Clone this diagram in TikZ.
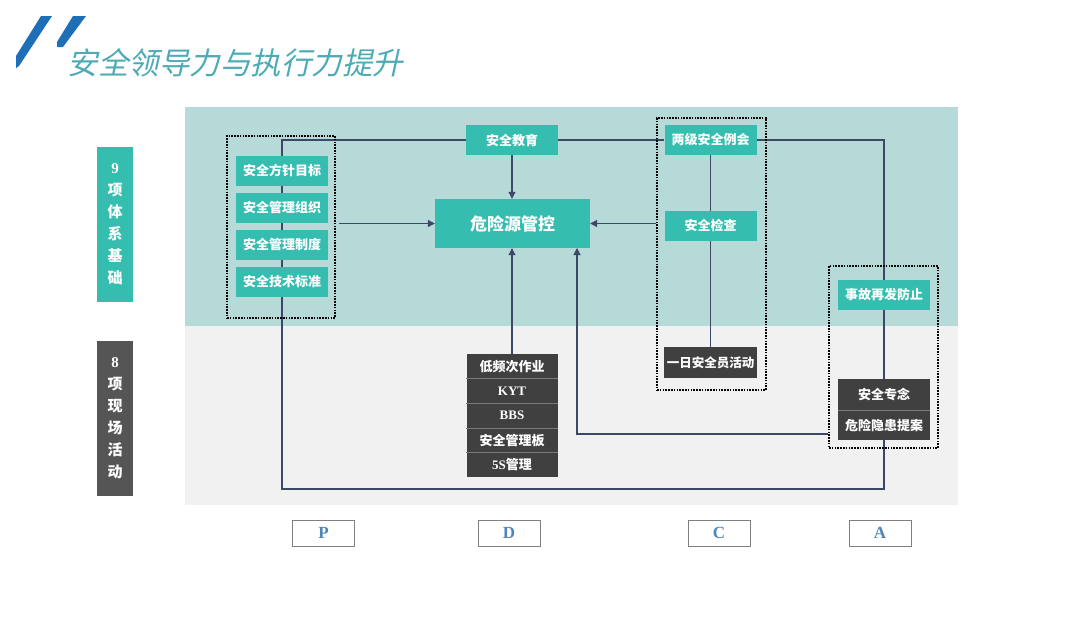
\documentclass[tikz,border=0pt]{standalone}
\usepackage{fontspec}
\setmainfont{Liberation Serif}
\newfontfamily\cjk{Noto Sans CJK SC}
\usetikzlibrary{arrows.meta,fit}
\pgfdeclarelayer{bg}\pgfdeclarelayer{lines}
\pgfsetlayers{bg,lines,main}
\definecolor{tealbox}{HTML}{35BDB0}
\definecolor{topband}{HTML}{B6DAD8}
\definecolor{botband}{HTML}{F1F1F1}
\definecolor{darkbox}{HTML}{404040}
\definecolor{labdark}{HTML}{555555}
\definecolor{linec}{HTML}{3D4866}
\definecolor{slash}{HTML}{1F6FB8}
\definecolor{titlec}{HTML}{4DABB5}
\definecolor{pdcat}{HTML}{4F86B8}
\definecolor{sepc}{HTML}{7A7A7A}
\begin{document}
\begin{tikzpicture}[x=1pt,y=-1pt,
  cjkb/.style={font=\cjk\bfseries\fontsize{13}{15}\selectfont},
  tbox/.style={fill=tealbox, text=white, cjkb, minimum width=92, minimum height=30, inner sep=0},
  dbox/.style={fill=darkbox, text=white, cjkb, minimum width=92, minimum height=30, inner sep=0},
  sbox/.style={fill=darkbox, text=white, cjkb, minimum width=91, minimum height=24.6, inner sep=0},
  dotbox/.style={draw=black, dash pattern=on 1.6pt off 1.2pt, line width=1.8pt, inner sep=0},
  conn/.style={draw=linec, line width=1.05pt},
  arr/.style={conn, -{Triangle[length=7pt,width=7pt]}},
  pbox/.style={draw=gray, line width=0.8pt, minimum width=62, minimum height=26, inner sep=0, text=pdcat, font=\bfseries\fontsize{17}{19}\selectfont},
  lab/.style={minimum width=36, minimum height=155, inner sep=0, text=white, align=center, font=\fontsize{15}{22}\selectfont}
]
\useasboundingbox (0,0) rectangle (1080,621);

% bands
\begin{pgfonlayer}{bg}
\fill[white] (0,0) rectangle (1080,621);
\fill[topband] (185,107) rectangle (958,326);
\fill[botband] (185,326) rectangle (958,505);
\end{pgfonlayer}

% title
\fill[slash] (41,16) -- (52,16) -- (19,66) -- (16,68) -- (16,56) -- cycle;
\fill[slash] (73,16) -- (86,16) -- (63,47) -- (57,47) -- (57,42) -- cycle;
\node[text=titlec, font=\cjk\fontsize{30.5}{32}\selectfont, xslant=0.22, transform shape, inner sep=0] (title) at (238,63) {安全领导力与执行力提升};

% left labels
\node[lab, fill=tealbox] (lab9) at (115,224.5) {{\bfseries 9}\\{\cjk\bfseries 项}\\{\cjk\bfseries 体}\\{\cjk\bfseries 系}\\{\cjk\bfseries 基}\\{\cjk\bfseries 础}};
\node[lab, fill=labdark] (lab8) at (115,418) {{\bfseries 8}\\{\cjk\bfseries 项}\\{\cjk\bfseries 现}\\{\cjk\bfseries 场}\\{\cjk\bfseries 活}\\{\cjk\bfseries 动}};

% P group
\node[tbox] (p1) at (282,171) {安全方针目标};
\node[tbox] (p2) at (282,208) {安全管理组织};
\node[tbox] (p3) at (282,245) {安全管理制度};
\node[tbox] (p4) at (282,282) {安全技术标准};
\node[dotbox, fit={(227,136) (335,318)}] (pgrp) {};

% D
\node[tbox] (edu) at (512,140) {安全教育};
\node[fill=tealbox, text=white, font=\cjk\bfseries\fontsize{17}{20}\selectfont, minimum width=155, minimum height=49, inner sep=0] (haz) at (512.5,223.5) {危险源管控};
\node[sbox] (d1) at (512,366.3) {低频次作业};
\node[sbox, font=\bfseries\fontsize{13}{15}\selectfont] (d2) at (512,390.9) {KYT};
\node[sbox, font=\bfseries\fontsize{13}{15}\selectfont] (d3) at (512,415.5) {BBS};
\node[sbox] (d4) at (512,440.1) {安全管理板};
\node[sbox] (d5) at (512,464.7) {{\rmfamily 5S}管理};
\draw[sepc, line width=0.7pt] (d1.south west) -- (d1.south east);
\draw[sepc, line width=0.7pt] (d2.south west) -- (d2.south east);
\draw[sepc, line width=0.7pt] (d3.south west) -- (d3.south east);
\draw[sepc, line width=0.7pt] (d4.south west) -- (d4.south east);

% C group
\node[tbox] (meet) at (710.5,140) {两级安全例会};
\node[tbox] (check) at (710.5,226) {安全检查};
\node[dbox, minimum width=93, minimum height=31, font=\cjk\bfseries\fontsize{12.5}{15}\selectfont] (daily) at (710.5,362.5) {一日安全员活动};
\node[dotbox, fit={(657,118) (766,390)}] (cgrp) {};

% A group
\node[tbox] (acc) at (884,295) {事故再发防止};
\node[dbox, minimum height=31] (nian) at (884,394.5) {安全专念};
\node[dbox] (prop) at (884,425) {危险隐患提案};
\draw[sepc, line width=0.7pt] (nian.south west) -- (nian.south east);
\node[dotbox, fit={(829,266) (938,448)}] (agrp) {};

% connectors
\coordinate (c1) at (282,140);
\coordinate (c2) at (282,489);
\coordinate (c3) at (884,489);
\coordinate (c4) at (884,140);
\coordinate (c5) at (577,434);
\coordinate (c6) at (577,248);
\begin{pgfonlayer}{lines}
\draw[conn] (edu.west) -- (c1) -- (c2) -- (c3) -- (prop.south);
\draw[conn] (edu.east) -- (meet.west);
\draw[conn] (meet.east) -- (c4) -- (nian.north);
\draw[conn] (meet.south) -- (daily.north);
\draw[arr] (edu.south) -- (edu.south |- haz.north);
\draw[arr] ([xshift=3pt]pgrp.east |- haz.west) -- (haz.west);
\draw[arr] (cgrp.west |- haz.east) -- (haz.east);
\draw[arr] (d1.north) -- (d1.north |- haz.south);
\draw[arr] (agrp.west |- c5) -- (c5) -- (c6);
\end{pgfonlayer}

% PDCA
\node[pbox] (P) at (323.5,533) {P};
\node[pbox] (D) at (509,533) {D};
\node[pbox] (C) at (719,533) {C};
\node[pbox] (A) at (880,533) {A};
\end{tikzpicture}
\end{document}
